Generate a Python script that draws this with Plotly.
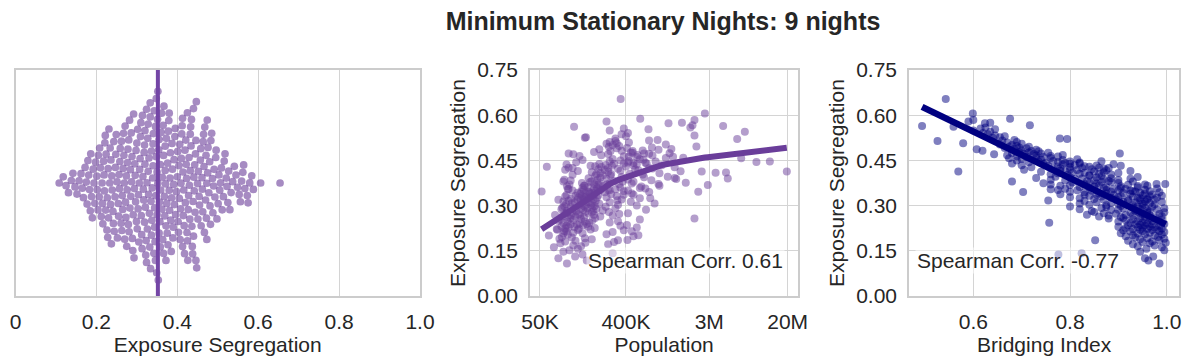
import numpy as np
import plotly.graph_objects as go
from plotly.subplots import make_subplots

# exposure segregation per metro area (shared by all three panels)
seg = [
    0.108, 0.118,
    0.125, 0.131, 0.138,
    0.142, 0.147, 0.152, 0.157,
    0.162, 0.165, 0.168, 0.172, 0.175, 0.177, 0.179,
    0.181, 0.183, 0.185, 0.186, 0.188, 0.190, 0.192, 0.194, 0.196, 0.198,
    0.201, 0.202, 0.204, 0.205, 0.207, 0.208, 0.210, 0.212, 0.214, 0.215, 0.216, 0.218, 0.219, 0.220,
    0.221, 0.222, 0.223, 0.224, 0.226, 0.227, 0.228, 0.229, 0.230, 0.231, 0.233, 0.234, 0.235, 0.236, 0.237, 0.238, 0.239,
    0.241, 0.242, 0.243, 0.244, 0.246, 0.247, 0.248, 0.249, 0.251, 0.252, 0.254, 0.255, 0.256, 0.257, 0.258, 0.259,
    0.261, 0.262, 0.263, 0.264, 0.265, 0.266, 0.267, 0.268, 0.269, 0.270, 0.271, 0.272, 0.273, 0.274, 0.275, 0.276, 0.277, 0.278, 0.279, 0.280,
    0.281, 0.282, 0.283, 0.284, 0.285, 0.286, 0.287, 0.288, 0.289, 0.290, 0.291, 0.292, 0.293, 0.294, 0.295, 0.296, 0.297, 0.298, 0.299, 0.300,
    0.301, 0.302, 0.303, 0.304, 0.305, 0.306, 0.307, 0.308, 0.309, 0.310, 0.311, 0.312, 0.313, 0.314, 0.315, 0.316, 0.317, 0.318, 0.319, 0.320, 0.320, 0.319,
    0.321, 0.322, 0.323, 0.324, 0.325, 0.326, 0.327, 0.328, 0.329, 0.330, 0.331, 0.332, 0.333, 0.334, 0.335, 0.336, 0.337, 0.338, 0.339, 0.340, 0.340, 0.336, 0.333, 0.328, 0.324,
    0.341, 0.342, 0.343, 0.344, 0.345, 0.346, 0.346, 0.347, 0.348, 0.349, 0.350, 0.350, 0.351, 0.352, 0.353, 0.354, 0.355, 0.356, 0.357, 0.358, 0.358, 0.359, 0.360, 0.355, 0.352, 0.348, 0.344,
    0.361, 0.362, 0.363, 0.364, 0.365, 0.366, 0.367, 0.368, 0.369, 0.370, 0.371, 0.372, 0.372, 0.373, 0.374, 0.375, 0.376, 0.377, 0.378, 0.379, 0.380, 0.380, 0.366, 0.370,
    0.381, 0.382, 0.383, 0.384, 0.385, 0.386, 0.387, 0.388, 0.389, 0.390, 0.391, 0.392, 0.393, 0.394, 0.395, 0.396, 0.398, 0.400,
    0.401, 0.402, 0.403, 0.404, 0.405, 0.406, 0.407, 0.408, 0.409, 0.410, 0.411, 0.412, 0.413, 0.413, 0.414, 0.415, 0.416, 0.417, 0.418, 0.419, 0.420,
    0.421, 0.422, 0.423, 0.424, 0.425, 0.426, 0.427, 0.428, 0.429, 0.430, 0.431, 0.432, 0.433, 0.434, 0.435, 0.436, 0.437, 0.438, 0.439, 0.440, 0.440, 0.425, 0.432,
    0.441, 0.442, 0.443, 0.444, 0.445, 0.446, 0.446, 0.447, 0.448, 0.450, 0.451, 0.452, 0.454, 0.455, 0.457, 0.458, 0.459,
    0.461, 0.462, 0.463, 0.464, 0.465, 0.466, 0.467, 0.468, 0.470, 0.471, 0.472, 0.473, 0.473, 0.474, 0.475, 0.476, 0.478, 0.480,
    0.481, 0.482, 0.483, 0.485, 0.487, 0.488, 0.490, 0.491, 0.493, 0.495, 0.496, 0.498,
    0.501, 0.503, 0.505, 0.507, 0.509, 0.511, 0.514, 0.516, 0.518,
    0.521, 0.523, 0.525, 0.527, 0.530, 0.533, 0.537,
    0.541, 0.545, 0.549, 0.553, 0.556, 0.559,
    0.562, 0.564, 0.567, 0.573, 0.575, 0.579,
    0.584, 0.588,
    0.606, 0.654,
]

# population in thousands, same order
pop_k = [
    96, 155,
    78, 117, 140,
    290, 88, 102, 125,
    70, 135, 112, 260, 82, 150, 300,
    92, 118, 330, 415, 175, 80, 148, 108, 85, 480,
    62, 540, 98, 250, 88, 140, 112, 290, 95, 460, 90, 380, 125, 76,
    170, 75, 128, 92, 188, 520, 100, 115, 160, 84, 350, 95, 142, 410, 122, 105, 155,
    130, 88, 165, 270, 98, 148, 330, 78, 178, 112, 560, 82, 135, 2100, 104, 190,
    145, 98, 118, 215, 86, 132, 290, 106, 72, 185, 127, 340, 92, 162, 420, 110, 96, 175, 265, 150,
    120, 182, 96, 228, 142, 650, 116, 84, 195, 135, 310, 158, 86, 178, 105, 245, 148, 90, 188, 520,
    130, 172, 330, 152, 94, 210, 800, 108, 176, 116, 270, 160, 450, 88, 192, 100, 145, 325, 124, 134, 360, 78,
    182, 142, 106, 720, 164, 198, 126, 250, 152, 92, 176, 320, 138, 205, 95, 480, 185, 280, 132, 460, 168, 380, 118, 146, 560,
    150, 178, 124, 240, 702, 2300, 162, 52, 136, 192, 420, 110, 270, 215, 144, 310, 100, 184, 640, 560, 200, 140, 350, 98, 260, 380, 165,
    160, 195, 580, 96, 230, 900, 148, 2900, 205, 102, 340, 186, 880, 460, 270, 138, 1700, 210, 168, 480, 88, 370, 145, 250,
    175, 300, 105, 740, 200, 90, 420, 1350, 250, 4700, 162, 1300, 215, 620, 360, 1100, 190, 275,
    230, 110, 600, 195, 280, 440, 900, 215, 3500, 4500, 175, 260, 19600, 2500, 1500, 125, 350, 540, 240, 92, 500,
    205, 330, 760, 700, 260, 100, 1300, 220, 59, 400, 190, 285, 480, 950, 245, 95, 520, 210, 300, 660, 380, 110, 170,
    480, 640, 420, 120, 9400, 13000, 820, 270, 430, 350, 140, 610, 560, 290, 6500, 1050, 1600,
    520, 1250, 430, 380, 130, 760, 220, 530, 112, 260, 700, 620, 100, 1150, 470, 450, 185, 275,
    470, 360, 600, 880, 210, 1200, 320, 410, 750, 265, 2200, 340,
    290, 1050, 250, 320, 430, 270, 310, 700, 860,
    5900, 310, 148, 152, 400, 2100, 360,
    420, 7100, 270, 690, 380, 1900,
    114, 4200, 2000, 1120, 1550, 250,
    2100, 565,
    2700, 352,
]

# bridging index, same order
bridge = [
    0.985, 0.962,
    0.955, 0.972, 0.776,
    0.824, 0.945, 0.995, 0.958,
    0.990, 0.940, 0.975, 0.930, 0.965, 0.998, 0.950,
    0.970, 0.920, 0.852, 0.985, 0.945, 0.995, 0.960, 0.935, 0.982, 0.915,
    0.975, 0.930, 0.990, 0.955, 0.940, 0.905, 0.965, 0.995, 0.925, 0.950, 0.985, 0.910, 0.970, 0.945,
    0.980, 0.930, 0.960, 0.990, 0.915, 0.950, 0.975, 0.940, 0.900, 0.965, 0.985, 0.955, 0.920, 0.945, 0.970, 0.935, 0.995,
    0.960, 0.925, 0.757, 0.950, 0.985, 0.900, 0.940, 0.970, 0.915, 0.955, 0.990, 0.930, 0.965, 0.880, 0.945, 0.910,
    0.975, 0.905, 0.955, 0.860, 0.990, 0.930, 0.880, 0.965, 0.915, 0.835, 0.950, 0.985, 0.895, 0.945, 0.870, 0.960, 0.925, 0.995, 0.850, 0.940,
    0.965, 0.845, 0.935, 0.960, 0.885, 0.900, 0.980, 0.820, 0.945, 0.910, 0.995, 0.865, 0.955, 0.930, 0.875, 0.970, 0.800, 0.940, 0.905, 0.950,
    0.875, 0.930, 0.840, 0.975, 0.900, 0.950, 0.820, 0.965, 0.885, 0.935, 0.855, 0.990, 0.910, 0.955, 0.830, 0.920, 0.755, 0.945, 0.870, 0.975, 0.895, 0.960,
    0.920, 0.850, 0.960, 0.820, 0.940, 0.885, 0.980, 0.800, 0.930, 0.865, 0.965, 0.905, 0.840, 0.950, 0.890, 0.855, 0.970, 0.780, 0.925, 0.875, 0.955, 0.830, 0.990, 0.900, 0.945,
    0.860, 0.910, 0.945, 0.830, 0.703, 0.800, 0.885, 0.935, 0.965, 0.845, 0.900, 0.925, 0.815, 0.875, 0.955, 0.760, 0.915, 0.790, 0.980, 0.870, 0.905, 0.840, 0.940, 0.890, 0.775, 0.930, 0.985,
    0.875, 0.820, 0.850, 0.905, 0.940, 0.780, 0.860, 0.800, 0.920, 0.955, 0.830, 0.979, 0.997, 0.855, 0.745, 0.900, 0.840, 0.805, 0.885, 0.865, 0.680, 0.930, 0.960, 0.760,
    0.835, 0.880, 0.790, 0.850, 0.900, 0.760, 0.870, 0.810, 0.925, 0.825, 0.885, 0.730, 0.855, 0.800, 0.940, 0.770, 0.865, 0.840,
    0.840, 0.795, 0.885, 0.760, 0.860, 0.820, 0.775, 0.900, 0.830, 0.805, 0.870, 0.740, 0.569, 0.850, 0.790, 0.925, 0.780, 0.875, 0.815, 0.705, 0.800,
    0.845, 0.765, 0.870, 0.780, 0.825, 0.860, 0.720, 0.800, 0.840, 0.775, 0.830, 0.755, 0.855, 0.700, 0.810, 0.785, 0.890, 0.745, 0.800, 0.820, 0.680, 0.880, 0.905,
    0.790, 0.750, 0.820, 0.715, 0.775, 0.800, 0.735, 0.865, 0.765, 0.690, 0.785, 0.740, 0.815, 0.700, 0.674, 0.760, 0.730,
    0.745, 0.710, 0.775, 0.690, 0.760, 0.730, 0.670, 0.785, 0.643, 0.725, 0.705, 0.903, 0.740, 0.680, 0.755, 0.715, 0.695, 0.735,
    0.720, 0.619, 0.700, 0.730, 0.607, 0.685, 0.710, 0.665, 0.695, 0.715, 0.675, 0.690,
    0.680, 0.655, 0.700, 0.579, 0.670, 0.690, 0.526, 0.660, 0.685,
    0.794, 0.779, 0.640, 0.655, 0.665, 0.645, 0.630,
    0.620, 0.635, 0.600, 0.645, 0.615, 0.625,
    0.559, 0.494, 0.717, 0.624, 0.635, 0.590,
    0.600, 0.676,
    0.599, 0.543,
]

pop_ticks = [5e4, 4e5, 3e6, 2e7]
pop_tick_labels = ["50K", "400K", "3M", "20M"]
seg_ticks = [0, 0.15, 0.3, 0.45, 0.6, 0.75]
seg_tick_labels = ["0.00", "0.15", "0.30", "0.45", "0.60", "0.75"]
x1_ticks = [0, 0.2, 0.4, 0.6, 0.8, 1.0]
x1_tick_labels = ["0", "0.2", "0.4", "0.6", "0.8", "1.0"]
corr_pop_text = "Spearman Corr. 0.61"
corr_bridge_text = "Spearman Corr. -0.77"

assert len(seg) == len(pop_k) == len(bridge)
seg_a = np.array(seg)
pop_a = np.array(pop_k) * 1000.0
bridge_a = np.array(bridge)

PURPLE = "#6a3d9a"
NAVY = "#000080"
TXT = "#262626"
GRID = "#d4d4d4"
FONT = "Liberation Sans, Arial, Helvetica, sans-serif"
FS = 21

W, H = 1194, 363


def px(x):
    return x / W


def py(y):
    return (H - y) / H


def beeswarm(x, px_per_unit, diam):
    # simple swarm layout: each point goes to the smallest offset that does not collide
    xp = np.asarray(x) * px_per_unit
    order = np.argsort(xp, kind="stable")
    y = np.zeros(len(xp))
    placed = []
    for i in order:
        near = [(xp[j], y[j]) for j in placed if abs(xp[i] - xp[j]) < diam]
        cands = [0.0]
        for xj, yj in near:
            dy = np.sqrt(diam ** 2 - (xp[i] - xj) ** 2)
            cands += [yj + dy, yj - dy]
        cands.sort(key=abs)
        for c in cands:
            if all((xp[i] - xj) ** 2 + (c - yj) ** 2 >= diam ** 2 - 1e-6 for xj, yj in near):
                y[i] = c
                break
        placed.append(i)
    return y


def lowess(x, y, frac=2 / 3, it=3):
    # local linear smoother with robustness iterations, evaluated at the data
    o = np.argsort(x)
    x, y = x[o], y[o]
    n = len(x)
    k = int(np.ceil(frac * n))
    rw = np.ones(n)
    fit = np.zeros(n)
    for _ in range(it + 1):
        for i in range(n):
            d = np.abs(x - x[i])
            h = np.sort(d)[k - 1]
            w = np.clip(1 - (d / h) ** 3, 0, 1) ** 3 * rw
            xm = (w * x).sum() / w.sum()
            ym = (w * y).sum() / w.sum()
            b = (w * (x - xm) * (y - ym)).sum() / (w * (x - xm) ** 2).sum()
            fit[i] = ym + b * (x[i] - xm)
        res = y - fit
        s = np.median(np.abs(res))
        rw = np.clip(1 - (res / (6 * s)) ** 2, 0, 1) ** 2
    return x, fit


fig = make_subplots(rows=1, cols=3)

# left: swarm of segregation values
swarm_y = beeswarm(seg_a, 405.0, 7.4)
fig.add_trace(
    go.Scatter(
        x=seg_a, y=swarm_y, mode="markers",
        marker=dict(size=7.7, color=PURPLE, opacity=0.6, line=dict(width=0)),
        showlegend=False, hoverinfo="x",
    ),
    row=1, col=1,
)
med = float(np.median(seg_a))
fig.add_shape(
    type="line", xref="x", yref="y domain", x0=med, x1=med, y0=0, y1=1,
    line=dict(color="#7446a6", width=4), layer="above",
)

# middle: population vs segregation with lowess curve (in log population)
fig.add_trace(
    go.Scatter(
        x=pop_a, y=seg_a, mode="markers",
        marker=dict(size=8, color=PURPLE, opacity=0.5, line=dict(width=0)),
        showlegend=False,
    ),
    row=1, col=2,
)
lx, ly = lowess(np.log10(pop_a), seg_a)
fig.add_trace(
    go.Scatter(
        x=10 ** lx, y=ly, mode="lines",
        line=dict(color=PURPLE, width=6), showlegend=False,
    ),
    row=1, col=2,
)

# right: bridging index vs segregation with linear fit
fig.add_trace(
    go.Scatter(
        x=bridge_a, y=seg_a, mode="markers",
        marker=dict(size=8, color=NAVY, opacity=0.5, line=dict(width=0)),
        showlegend=False,
    ),
    row=1, col=3,
)
slope, icpt = np.polyfit(bridge_a, seg_a, 1)
bx = np.array([bridge_a.min(), bridge_a.max()])
fig.add_trace(
    go.Scatter(
        x=bx, y=icpt + slope * bx, mode="lines",
        line=dict(color=NAVY, width=6.5), showlegend=False,
    ),
    row=1, col=3,
)

ydom = [py(296), py(70)]
frame = dict(showline=True, mirror=True, linecolor="#cccccc", linewidth=1.5,
             gridcolor=GRID, gridwidth=1, zeroline=False, automargin=False,
             ticks="outside", ticklen=6, tickcolor="rgba(0,0,0,0)",
             tickfont=dict(size=FS, color=TXT), title_font=dict(size=FS, color=TXT))

fig.update_xaxes(frame)
fig.update_yaxes(frame)

fig.update_layout(
    xaxis=dict(domain=[px(15.5), px(420)], range=[0, 1], tickvals=x1_ticks,
               ticktext=x1_tick_labels, title=dict(text="Exposure Segregation", standoff=4)),
    yaxis=dict(domain=ydom, range=[-113, 113], showticklabels=False, showgrid=False, ticks=""),
    xaxis2=dict(domain=[px(530), px(798.3)], type="log", range=[4.594, 7.413],
                tickvals=pop_ticks, ticktext=pop_tick_labels,
                title=dict(text="Population", standoff=4)),
    yaxis2=dict(domain=ydom, range=[0, 0.75], tickvals=seg_ticks, ticktext=seg_tick_labels,
                title=dict(text="Exposure Segregation", standoff=6)),
    xaxis3=dict(domain=[px(909), px(1179.3)], range=[0.467, 1.026],
                tickvals=[0.6, 0.8, 1.0], ticktext=["0.6", "0.8", "1.0"],
                title=dict(text="Bridging Index", standoff=4)),
    yaxis3=dict(domain=ydom, range=[0, 0.75], tickvals=seg_ticks, ticktext=seg_tick_labels,
                title=dict(text="Exposure Segregation", standoff=6)),
)

fig.add_annotation(
    text=corr_pop_text, xref="paper", yref="paper", x=px(785), y=py(260),
    xanchor="right", yanchor="middle", showarrow=False,
    font=dict(size=FS, color=TXT), bgcolor="rgba(255,255,255,0.5)", borderpad=1,
)
fig.add_annotation(
    text=corr_bridge_text, xref="paper", yref="paper", x=px(915), y=py(260),
    xanchor="left", yanchor="middle", showarrow=False,
    font=dict(size=FS, color=TXT), bgcolor="rgba(255,255,255,0.5)", borderpad=1,
)

fig.update_layout(
    width=W, height=H,
    margin=dict(l=0, r=0, t=0, b=0),
    paper_bgcolor="white", plot_bgcolor="white",
    font=dict(family=FONT, color=TXT),
    title=dict(text="<b>Minimum Stationary Nights: 9 nights</b>", x=px(663), xanchor="center",
               y=py(21), yanchor="middle", font=dict(size=25, color=TXT)),
    hovermode="closest",
)

# drop the default page margin so the figure sits at the window's corner
fig.write_html("out.html", config={"displayModeBar": False},
               post_script="document.body.style.margin='0';")
